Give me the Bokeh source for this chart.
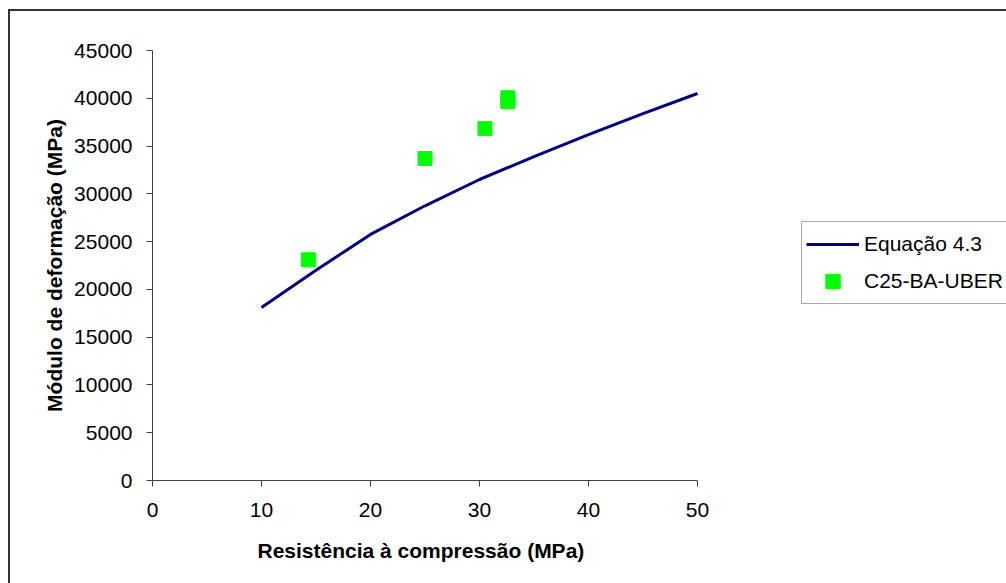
from bokeh.plotting import figure
from bokeh.models import Range1d, FixedTicker, Legend, LegendItem, Title
from bokeh.embed import file_html
from bokeh.resources import INLINE

# Data
fck_eq = [10, 15, 20, 25, 30, 35, 40, 45, 50]
E_eq = [18100, 22000, 25750, 28750, 31500, 33900, 36200, 38400, 40500]
fc_exp = [14.3, 25.0, 30.5, 32.6, 32.6]
E_exp = [23100, 33700, 36850, 40050, 39650]
x_ticks = [0, 10, 20, 30, 40, 50]
y_ticks = list(range(0, 45001, 5000))
x_label = "Resistência à compressão (MPa)"
y_label = "Módulo de deformação (MPa)"

FONT = "Liberation Sans"

# layout: plot area 152..697 px for x 0..50; frame is extended to the right edge
W, H = 1006, 583
left_px, right_px = 152, 697
x_end = 50 * (W - left_px) / (right_px - left_px)

p = figure(width=W, height=H, output_backend="svg", toolbar_location=None,
           x_range=Range1d(0, x_end), y_range=Range1d(0, 45000),
           min_border_left=left_px, min_border_right=0, min_border_top=50, min_border_bottom=103)
p.styles = {
    "background": "linear-gradient(#333333,#333333) 8px 9px / 2px 100% no-repeat, "
                  "linear-gradient(#333333,#333333) 8px 9px / 100% 2px no-repeat, white",
}
p.border_fill_color = None
p.background_fill_color = None
p.outline_line_color = None
p.grid.visible = False

r_line = p.line(fck_eq, E_eq, line_color="#000080", line_width=3)
r_pts = p.scatter(fc_exp, E_exp, marker="square", size=14, fill_color="#00FF00", line_color="#00FF00")

for ax in (p.xaxis[0], p.yaxis[0]):
    ax.axis_line_color = "#404040"
    ax.major_tick_line_color = "#404040"
    ax.major_tick_in = 0
    ax.major_tick_out = 6
    ax.minor_tick_line_color = None
    ax.major_label_text_font = FONT
    ax.major_label_text_font_size = "21px"
    ax.major_label_text_color = "black"
    ax.axis_label_text_font = FONT
    ax.axis_label_text_font_size = "21px"
    ax.axis_label_text_font_style = "bold"
    ax.axis_label_text_color = "black"

p.xaxis.ticker = FixedTicker(ticks=x_ticks)
p.xaxis.bounds = (0, 50)
p.yaxis.ticker = FixedTicker(ticks=y_ticks)
p.xaxis.major_label_standoff = 16
p.yaxis.major_label_standoff = 14
p.yaxis.axis_label = y_label
p.yaxis.axis_label_standoff = 5

xt = Title(text=x_label, align="left", offset=105, standoff=34,
           text_font=FONT, text_font_size="21px", text_font_style="bold", text_color="black")
p.add_layout(xt, "below")

legend = Legend(items=[LegendItem(label="Equação 4.3", renderers=[r_line]),
                       LegendItem(label="C25-BA-UBER", renderers=[r_pts])],
                location=(649, 176))
legend.label_text_font = FONT
legend.label_text_font_size = "21px"
legend.label_text_color = "black"
legend.glyph_width = 53
legend.glyph_height = 36
legend.label_height = 36
legend.label_standoff = 5
legend.spacing = 1
legend.padding = 4
legend.margin = 0
legend.border_line_color = "#555555"
legend.border_line_width = 1
legend.background_fill_color = "white"
legend.background_fill_alpha = 1
legend.label_width = 150
p.add_layout(legend)

open("out.html", "w").write(file_html(p, INLINE))
